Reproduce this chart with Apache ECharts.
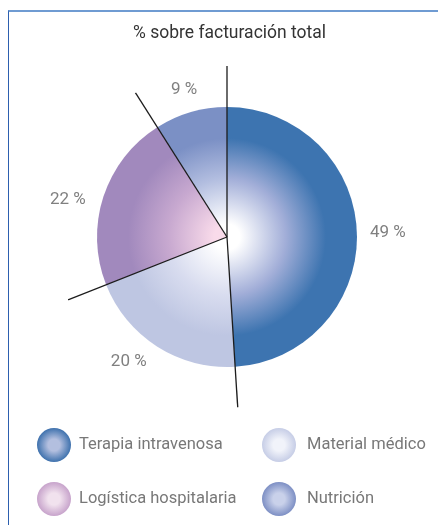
<!DOCTYPE html>
<html>
<head>
<meta charset="utf-8">
<script src="https://cdn.jsdelivr.net/npm/echarts@6/dist/echarts.min.js"></script>
<style>
html, body { margin: 0; padding: 0; background: #fff; }
.frame {
  position: absolute;
  left: 8px;
  top: 10px;
  width: 440px;
  height: 520px;
  border-top: 2px solid #6f9bd2;
  border-left: 1px solid #2d5fae;
}
#chart { position: absolute; left: 0; top: 0; width: 438px; height: 525px; }
</style>
</head>
<body>
<div class="frame"></div>
<div id="chart"></div>
<script>
// datos
const categories = ['Terapia intravenosa', 'Material médico', 'Logística hospitalaria', 'Nutrición'];
const shares = [49, 20, 22, 9];

// colores (borde / centro del degradado)
const edgeColors = ['#3d74b0', '#bec6e2', '#a189bd', '#7b90c5'];
const midColors = ['#a2aed8', '#d8dcef', '#c8a9d0', '#b3bee0'];
const centerColors = ['#ffffff', '#ffffff', '#f9dbea', '#ffffff'];
const legendEdge = ['#3e71ad', '#c6cde6', '#c7a3cb', '#7d8fc4'];
const legendCenter = ['#b3bfdf', '#f1f3fa', '#f1e2ee', '#c9d1ea'];
// pequeño ajuste de las etiquetas respecto al ángulo medio
const labelShift = [[0, 1], [-12, -11], [-6, 13], [2, 7]];

const font = "Roboto, 'Liberation Sans', sans-serif";
const cx = 227, cy = 237, R = 130;

const chart = echarts.init(document.getElementById('chart'));

// limites de sectores (porcentaje acumulado)
const bounds = [];
let acc = 0;
shares.forEach(v => { bounds.push(acc); acc += v; });

const pieData = categories.map((name, i) => ({
  name: name,
  value: shares[i],
  itemStyle: {
    color: {
      type: 'radial', x: cx, y: cy, r: R, global: true,
      colorStops: [
        { offset: 0, color: centerColors[i] },
        { offset: 0.1, color: centerColors[i] },
        { offset: 0.45, color: midColors[i] },
        { offset: 0.76, color: edgeColors[i] },
        { offset: 1, color: edgeColors[i] }
      ]
    }
  }
}));

const legendItem = i => ({
  name: categories[i],
  itemStyle: {
    color: {
      type: 'radial', x: 0.5, y: 0.5, r: 0.5,
      colorStops: [
        { offset: 0, color: legendCenter[i] },
        { offset: 0.35, color: legendCenter[i] },
        { offset: 1, color: legendEdge[i] }
      ]
    }
  }
});

const legendBase = {
  orient: 'vertical',
  icon: 'circle',
  itemWidth: 34,
  itemHeight: 34,
  itemGap: 20,
  padding: 0,
  selectedMode: false,
  top: 428,
  textStyle: { fontFamily: font, fontSize: 16.5, color: '#787878' }
};

const option = {
  animation: false,
  title: {
    text: '% sobre facturación total',
    left: 128,
    top: 20,
    textStyle: { fontFamily: font, fontSize: 17.5, fontWeight: 'normal', color: '#333' }
  },
  legend: [
    Object.assign({}, legendBase, {
      left: 37,
      data: [legendItem(0), legendItem(2)],
      textStyle: Object.assign({}, legendBase.textStyle, { padding: [0, 0, 0, 3] })
    }),
    Object.assign({}, legendBase, {
      left: 262,
      data: [legendItem(1), legendItem(3)],
      textStyle: Object.assign({}, legendBase.textStyle, { padding: [0, 0, 0, 6] })
    })
  ],
  polar: { center: [cx, cy], radius: 171 },
  angleAxis: { type: 'value', min: 0, max: 100, startAngle: 90, clockwise: true, show: false },
  radiusAxis: { type: 'value', min: 0, max: 1, show: false },
  series: [
    {
      type: 'pie',
      center: [cx, cy],
      radius: [0, R],
      startAngle: 90,
      clockwise: true,
      silent: true,
      label: { show: false },
      labelLine: { show: false },
      itemStyle: { borderWidth: 0 },
      data: pieData
    },
    {
      // etiquetas de porcentaje
      type: 'pie',
      center: [cx, cy],
      radius: [136, 180],
      startAngle: 90,
      clockwise: true,
      silent: true,
      itemStyle: { color: 'rgba(0,0,0,0)', borderWidth: 0 },
      label: {
        show: true,
        position: 'inside',
        formatter: '{c} %',
        fontFamily: font,
        fontSize: 17,
        color: '#808080'
      },
      labelLine: { show: false },
      data: categories.map((name, i) => ({
        name: name,
        value: shares[i],
        label: { offset: labelShift[i] }
      }))
    }
  ].concat(bounds.map(b => ({
    type: 'line',
    coordinateSystem: 'polar',
    symbol: 'none',
    silent: true,
    z: 5,
    lineStyle: { color: '#1c1c1c', width: 1.3 },
    data: [[0, b], [1, b]]
  })))
};

chart.setOption(option);
</script>
</body>
</html>
